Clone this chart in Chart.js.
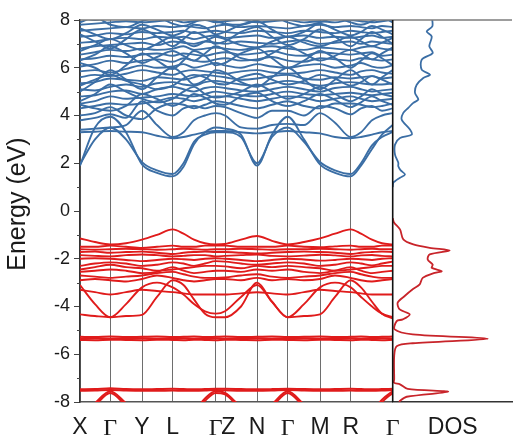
<!DOCTYPE html>
<html>
<head>
<meta charset="utf-8">
<script src="https://cdn.jsdelivr.net/npm/chart.js@4.4.1/dist/chart.umd.min.js"></script>
<style>
  html, body { margin: 0; padding: 0; background: #fff; }
  canvas { display: block; }
</style>
</head>
<body>
<canvas id="bands" width="513" height="442"></canvas>
<script>
// High-symmetry points along the k-path and their labels
const kTicks  = [0, 30.3, 62, 92.7, 135.7, 145, 177, 207.7, 240, 270.7, 312.7];
const kLabels = ['X', 'Γ', 'Y', 'L', 'Γ', ' Z', 'N', 'Γ', 'M', 'R', 'Γ'];

// k positions at which every band energy is sampled
const kGrid = [0, 15, 30.3, 46, 62, 77, 92.7, 103.5, 114, 125, 135.7, 145,
               161, 177, 192, 207.7, 224, 240, 255, 270.7, 281, 292, 302, 312.7];

// Energy axis ticks (eV)
const energyTicks = [-8, -6, -4, -2, 0, 2, 4, 6, 8];
const energyMinor = [-7, -5, -3, -1, 1, 3, 5, 7];

// Conduction bands (eV), one value per kGrid point
const cb01 = [1.9, 3.5, 3.95, 3.3, 1.95, 1.6, 1.45, 1.85, 2.8, 3.3, 3.5, 3.45, 3.2, 1.9, 3.2, 3.95, 3.0, 1.95, 1.6, 1.45, 1.9, 2.6, 3.2, 3.6];
const cb02 = [1.95, 3.0, 3.5, 3.0, 2.05, 1.7, 1.55, 2.0, 2.9, 3.2, 3.3, 3.3, 3.1, 2.0, 3.1, 3.5, 2.9, 2.05, 1.7, 1.55, 2.0, 2.75, 3.1, 3.3];
const cb03 = [3.3, 3.32, 3.35, 3.32, 3.3, 3.15, 3.05, 3.1, 3.2, 3.3, 3.35, 3.35, 3.3, 3.25, 3.3, 3.35, 3.3, 3.25, 3.1, 3.05, 3.1, 3.2, 3.3, 3.35];
const cb04 = [3.4, 3.45, 3.5, 3.6, 4.2, 3.6, 3.1, 3.3, 3.8, 4.0, 4.1, 4.0, 3.5, 3.45, 3.6, 3.65, 3.6, 4.1, 3.7, 3.1, 3.3, 3.8, 4.0, 4.1];
const cb05 = [3.8, 3.9, 4.05, 3.9, 4.6, 4.2, 4.0, 4.3, 4.4, 4.3, 4.4, 4.35, 4.1, 3.9, 4.2, 4.2, 4.0, 4.4, 4.3, 4.05, 4.3, 4.4, 4.2, 4.3];
const cb06 = [4.0, 4.1, 4.35, 4.0, 3.85, 4.3, 4.5, 4.45, 4.3, 4.45, 4.6, 4.55, 4.4, 4.3, 4.45, 4.6, 4.4, 4.3, 4.5, 4.5, 4.45, 4.35, 4.4, 4.5];
const cb07 = [4.3, 4.4, 4.5, 4.45, 4.5, 4.6, 4.75, 4.7, 4.6, 4.7, 4.8, 4.8, 4.7, 4.6, 4.7, 4.8, 4.75, 4.6, 4.7, 4.8, 4.7, 4.6, 4.65, 4.7];
const cb08 = [4.5, 4.6, 4.8, 4.7, 4.75, 4.8, 4.9, 4.85, 4.8, 4.9, 5.0, 4.95, 4.85, 4.8, 4.9, 5.0, 4.9, 4.85, 4.9, 4.95, 4.9, 4.85, 4.9, 4.95];
const cb09 = [4.6, 4.9, 5.3, 5.0, 4.7, 4.55, 4.7, 5.0, 5.2, 4.9, 4.75, 4.8, 5.0, 5.3, 5.0, 4.7, 4.9, 5.2, 4.9, 4.6, 4.8, 5.1, 4.9, 4.8];
const cb10 = [4.8, 4.85, 5.0, 5.05, 4.9, 5.1, 5.2, 5.1, 5.0, 5.15, 5.2, 5.15, 5.05, 5.0, 5.1, 5.2, 5.1, 5.0, 5.15, 5.2, 5.1, 5.0, 5.05, 5.1];
const cb11 = [5.1, 5.05, 5.2, 5.3, 5.2, 5.35, 5.4, 5.3, 5.25, 5.4, 5.45, 5.4, 5.3, 5.25, 5.35, 5.45, 5.35, 5.25, 5.35, 5.4, 5.35, 5.3, 5.3, 5.35];
const cb12 = [5.0, 5.4, 5.9, 5.5, 5.1, 5.6, 6.0, 5.7, 5.3, 5.5, 5.9, 5.8, 5.4, 5.2, 5.6, 6.0, 5.5, 5.1, 5.5, 5.9, 5.6, 5.3, 5.6, 5.9];
const cb13 = [5.35, 5.4, 5.55, 5.5, 5.45, 5.6, 5.55, 5.5, 5.6, 5.7, 5.65, 5.6, 5.5, 5.55, 5.65, 5.7, 5.55, 5.5, 5.6, 5.55, 5.6, 5.65, 5.55, 5.6];
const cb14 = [5.6, 5.7, 5.65, 5.75, 5.9, 5.8, 5.7, 5.85, 5.9, 5.85, 5.8, 5.75, 5.85, 5.9, 5.8, 5.75, 5.8, 5.9, 5.8, 5.7, 5.85, 5.9, 5.8, 5.75];
const cb15 = [5.85, 5.9, 5.8, 5.95, 6.1, 6.0, 6.05, 6.15, 6.0, 6.1, 6.2, 6.1, 6.0, 6.15, 6.05, 6.0, 6.1, 6.15, 6.0, 6.1, 6.2, 6.05, 6.0, 6.1];
const cb16 = [6.2, 6.0, 5.7, 6.1, 6.6, 6.3, 5.95, 6.3, 6.7, 6.5, 6.1, 6.2, 6.6, 6.8, 6.4, 6.0, 6.3, 6.7, 6.4, 6.0, 6.3, 6.6, 6.4, 6.1];
const cb17 = [6.05, 6.15, 6.3, 6.2, 6.3, 6.35, 6.25, 6.4, 6.3, 6.25, 6.35, 6.4, 6.3, 6.35, 6.45, 6.3, 6.25, 6.4, 6.35, 6.3, 6.4, 6.35, 6.3, 6.35];
const cb18 = [6.35, 6.4, 6.5, 6.45, 6.55, 6.6, 6.5, 6.6, 6.55, 6.5, 6.6, 6.65, 6.55, 6.6, 6.7, 6.55, 6.5, 6.65, 6.6, 6.55, 6.6, 6.65, 6.5, 6.55];
const cb19 = [6.55, 6.65, 6.75, 6.7, 6.8, 6.75, 6.8, 6.9, 6.75, 6.8, 6.85, 6.8, 6.75, 6.85, 6.9, 6.8, 6.75, 6.85, 6.8, 6.75, 6.85, 6.9, 6.8, 6.75];
const cb20 = [6.8, 6.9, 6.95, 7.0, 7.05, 6.95, 7.1, 7.05, 7.0, 7.1, 7.05, 7.0, 7.1, 7.05, 7.0, 7.1, 7.15, 7.0, 7.05, 7.1, 7.0, 7.1, 7.05, 7.0];
const cb21 = [7.4, 7.1, 6.8, 7.2, 7.6, 7.3, 6.9, 7.2, 7.5, 7.3, 7.0, 7.1, 7.5, 7.7, 7.3, 6.95, 7.2, 7.6, 7.3, 6.9, 7.2, 7.5, 7.3, 7.0];
const cb22 = [7.05, 7.1, 7.2, 7.25, 7.2, 7.3, 7.25, 7.3, 7.2, 7.3, 7.35, 7.25, 7.3, 7.35, 7.25, 7.3, 7.35, 7.25, 7.3, 7.25, 7.3, 7.35, 7.25, 7.3];
const cb23 = [7.3, 7.35, 7.45, 7.4, 7.5, 7.45, 7.5, 7.55, 7.45, 7.5, 7.55, 7.5, 7.45, 7.55, 7.5, 7.45, 7.55, 7.5, 7.45, 7.55, 7.5, 7.45, 7.5, 7.55];
const cb24 = [7.55, 7.6, 7.65, 7.7, 7.65, 7.75, 7.7, 7.75, 7.7, 7.65, 7.75, 7.8, 7.7, 7.75, 7.7, 7.65, 7.75, 7.8, 7.7, 7.75, 7.7, 7.65, 7.75, 7.7];
const cb25 = [7.8, 7.85, 7.9, 7.95, 7.9, 7.95, 8.0, 7.9, 7.95, 8.0, 7.9, 7.95, 8.0, 7.9, 7.95, 8.0, 7.9, 7.95, 7.9, 8.0, 7.95, 7.9, 7.95, 8.0];
const cb26 = [8.1, 8.0, 8.1, 8.15, 8.05, 8.1, 8.2, 8.1, 8.05, 8.15, 8.1, 8.05, 8.15, 8.1, 8.05, 8.2, 8.1, 8.05, 8.1, 8.15, 8.05, 8.1, 8.15, 8.1];
const cb27 = [5.25, 5.5, 5.7, 5.45, 5.3, 5.1, 5.25, 5.55, 5.7, 5.6, 5.35, 5.3, 5.6, 5.75, 5.5, 5.3, 5.45, 5.7, 5.55, 5.25, 5.4, 5.65, 5.5, 5.3];
const cb28 = [6.3, 6.55, 6.9, 6.6, 6.2, 6.45, 6.7, 6.5, 6.3, 6.6, 6.9, 6.75, 6.4, 6.3, 6.6, 6.9, 6.6, 6.3, 6.5, 6.75, 6.6, 6.35, 6.6, 6.85];
const cb29 = [7.65, 7.4, 7.2, 7.45, 7.8, 7.6, 7.35, 7.5, 7.8, 7.7, 7.4, 7.5, 7.8, 7.95, 7.6, 7.3, 7.5, 7.85, 7.6, 7.35, 7.5, 7.75, 7.6, 7.4];
const cb30 = [7.9, 8.1, 7.8, 7.7, 7.95, 8.1, 7.85, 7.75, 7.9, 8.1, 7.95, 7.85, 7.8, 8.0, 8.15, 7.9, 7.75, 7.9, 8.1, 7.9, 7.8, 7.95, 8.1, 7.9];
const cb31 = [4.45, 4.3, 4.2, 4.4, 4.9, 4.7, 4.4, 4.6, 4.9, 4.75, 4.5, 4.45, 4.8, 4.95, 4.6, 4.4, 4.6, 4.9, 4.65, 4.35, 4.55, 4.8, 4.6, 4.45];
const cb32 = [6.7, 6.95, 7.2, 6.95, 6.75, 7.0, 7.3, 7.1, 6.9, 7.1, 7.3, 7.2, 6.95, 6.85, 7.1, 7.3, 7.05, 6.9, 7.1, 7.3, 7.1, 6.9, 7.05, 7.25];

// Valence bands (eV)
const vb01 = [-1.15, -1.3, -1.4, -1.35, -1.2, -1.0, -0.77, -0.95, -1.2, -1.35, -1.4, -1.38, -1.2, -1.05, -1.25, -1.4, -1.3, -1.15, -0.95, -0.77, -0.95, -1.2, -1.35, -1.4];
const vb02 = [-1.5, -1.5, -1.45, -1.5, -1.55, -1.5, -1.45, -1.5, -1.5, -1.45, -1.45, -1.45, -1.5, -1.5, -1.5, -1.45, -1.5, -1.52, -1.48, -1.45, -1.5, -1.5, -1.45, -1.45];
const vb03 = [-1.6, -1.62, -1.6, -1.58, -1.6, -1.62, -1.6, -1.58, -1.6, -1.62, -1.6, -1.6, -1.58, -1.6, -1.62, -1.6, -1.6, -1.58, -1.6, -1.62, -1.6, -1.58, -1.6, -1.6];
const vb04 = [-1.72, -1.7, -1.75, -1.72, -1.7, -1.75, -1.8, -1.75, -1.72, -1.7, -1.72, -1.72, -1.75, -1.78, -1.75, -1.72, -1.7, -1.72, -1.75, -1.8, -1.75, -1.72, -1.7, -1.72];
const vb05 = [-1.85, -1.88, -1.9, -1.85, -1.82, -1.85, -1.9, -1.88, -1.85, -1.85, -1.9, -1.88, -1.85, -1.82, -1.88, -1.9, -1.87, -1.83, -1.86, -1.9, -1.86, -1.84, -1.88, -1.9];
const vb06 = [-2.0, -1.98, -2.0, -2.05, -2.1, -2.05, -2.0, -2.02, -2.05, -2.0, -1.98, -2.0, -2.05, -2.1, -2.05, -2.0, -2.03, -2.08, -2.05, -2.0, -2.02, -2.05, -2.0, -1.98];
const vb07 = [-2.3, -2.2, -2.15, -2.2, -2.3, -2.25, -2.15, -2.2, -2.3, -2.2, -2.1, -2.12, -2.2, -2.25, -2.2, -2.15, -2.2, -2.3, -2.25, -2.15, -2.2, -2.28, -2.2, -2.12];
const vb08 = [-2.45, -2.35, -2.25, -2.35, -2.4, -2.5, -2.45, -2.4, -2.35, -2.3, -2.3, -2.32, -2.4, -2.3, -2.35, -2.3, -2.35, -2.4, -2.5, -2.45, -2.4, -2.35, -2.3, -2.3];
const vb09 = [-2.55, -2.5, -2.45, -2.5, -2.6, -2.55, -2.35, -2.5, -2.6, -2.55, -2.5, -2.5, -2.55, -2.45, -2.5, -2.45, -2.55, -2.6, -2.5, -2.35, -2.5, -2.6, -2.55, -2.5];
const vb10 = [-2.7, -2.75, -2.8, -2.75, -2.7, -2.6, -2.55, -2.65, -2.75, -2.8, -2.8, -2.78, -2.7, -2.65, -2.75, -2.8, -2.75, -2.7, -2.6, -2.55, -2.65, -2.75, -2.8, -2.8];
const vb11 = [-2.9, -2.85, -2.9, -2.95, -2.85, -2.7, -2.8, -2.9, -2.95, -2.9, -2.85, -2.85, -2.9, -2.8, -2.9, -2.85, -2.9, -2.85, -2.7, -2.8, -2.9, -2.95, -2.9, -2.85];
const vb12 = [-3.3, -3.4, -3.5, -3.4, -3.3, -3.35, -3.4, -3.45, -3.5, -3.5, -3.5, -3.5, -3.45, -3.4, -3.45, -3.5, -3.4, -3.3, -3.35, -3.4, -3.45, -3.5, -3.5, -3.5];
const vb13 = [-3.1, -3.9, -4.45, -3.9, -3.2, -3.0, -3.2, -3.5, -3.9, -4.2, -4.3, -4.2, -3.6, -3.1, -3.8, -4.45, -3.9, -3.2, -3.0, -3.2, -3.6, -4.0, -4.3, -4.45];
const vb14 = [-4.33, -4.4, -4.45, -4.4, -4.35, -3.6, -2.9, -3.1, -3.7, -4.3, -4.45, -4.45, -4.0, -3.0, -3.8, -4.45, -4.4, -4.33, -3.6, -2.9, -3.2, -3.8, -4.3, -4.5];

// Semi-core bands (eV)
const sc01 = [-5.27, -5.28, -5.26, -5.28, -5.27, -5.26, -5.28, -5.27, -5.26, -5.28, -5.27, -5.26, -5.28, -5.27, -5.26, -5.28, -5.27, -5.26, -5.28, -5.27, -5.26, -5.28, -5.27, -5.26];
const sc02 = [-5.34, -5.33, -5.35, -5.34, -5.33, -5.35, -5.34, -5.33, -5.35, -5.34, -5.33, -5.35, -5.34, -5.33, -5.35, -5.34, -5.33, -5.35, -5.34, -5.33, -5.35, -5.34, -5.33, -5.35];
const sc03 = [-5.4, -5.41, -5.39, -5.4, -5.41, -5.39, -5.4, -5.41, -5.39, -5.4, -5.41, -5.39, -5.4, -5.41, -5.39, -5.4, -5.41, -5.39, -5.4, -5.41, -5.39, -5.4, -5.41, -5.39];
const sc04 = [-7.47, -7.46, -7.42, -7.46, -7.47, -7.46, -7.45, -7.46, -7.47, -7.46, -7.45, -7.45, -7.46, -7.47, -7.46, -7.44, -7.46, -7.47, -7.46, -7.45, -7.46, -7.47, -7.46, -7.45];
const sc05 = [-7.53, -7.52, -7.5, -7.52, -7.53, -7.53, -7.52, -7.53, -7.53, -7.52, -7.5, -7.51, -7.53, -7.53, -7.52, -7.5, -7.52, -7.53, -7.53, -7.52, -7.53, -7.53, -7.52, -7.5];
const sc06 = [-8.6, -8.05, -7.55, -8.05, -8.6, -8.8, -8.8, -8.7, -8.4, -7.85, -7.55, -7.62, -8.2, -8.6, -8.1, -7.55, -8.1, -8.6, -8.8, -8.8, -8.6, -8.4, -7.9, -7.55];
const sc07 = [-8.7, -8.15, -7.62, -8.15, -8.7, -8.9, -8.9, -8.8, -8.5, -7.95, -7.62, -7.68, -8.3, -8.7, -8.2, -7.62, -8.2, -8.7, -8.9, -8.9, -8.7, -8.5, -8.0, -7.62];

// Density of states: energies (eV) and DOS values (arb. units)
const dosCbE = [1.0, 1.19, 1.25, 1.39, 1.53, 1.7, 1.87, 2.02, 2.36, 2.78, 3.06, 3.2, 3.41, 3.83, 4.11, 4.32, 4.53, 4.67, 4.95, 5.29, 5.57, 5.71, 5.92, 6.34, 6.62, 6.9, 7.31, 7.52, 7.73, 8.01];
const dosCbV = [0, 0.6, 2.3, 7.3, 12.3, 8, 5.6, 5.6, 2.3, 2.3, 7.3, 19, 17.3, 9, 10.6, 15.6, 20.6, 25.6, 22.3, 24, 30.6, 37.3, 29, 29, 40, 36.6, 39, 34, 39.6, 39.6];
const dosVbE = [-8.0, -7.96, -7.78, -7.57, -7.45, -7.26, -7.19, -7.05, -6.07, -5.66, -5.54, -5.35, -5.17, -4.96, -4.61, -4.54, -4.33, -4.12, -3.84, -3.56, -3.28, -3.07, -2.8, -2.59, -2.52, -2.38, -2.25, -2.03, -1.82, -1.65, -1.54, -1.4, -1.19, -0.77, -0.48, -0.3];
const dosVbV = [7, 7, 14, 55.6, 15, 7.3, 1.3, 1.5, 1.5, 4, 20, 95, 20, 2, 4, 10, 17, 7, 5, 12, 20, 27, 30, 42, 49, 39, 40, 35, 37, 57, 37, 20.6, 10.6, 7.3, 1.3, 0];

const blue = '#3b6ea5';
const red = '#e01b1b';
const dosRed = '#c8242a';

const conduction = [cb01, cb02, cb03, cb04, cb05, cb06, cb07, cb08, cb09, cb10, cb11, cb12, cb13, cb14, cb15, cb16,
                    cb17, cb18, cb19, cb20, cb21, cb22, cb23, cb24, cb25, cb26, cb27, cb28, cb29, cb30, cb31, cb32];
const valence = [vb01, vb02, vb03, vb04, vb05, vb06, vb07, vb08, vb09, vb10, vb11, vb12, vb13, vb14];
const semicore = [sc01, sc02, sc03, sc04, sc05, sc06, sc07];

function bandSet(band, color, width) {
  return {
    data: band.map((e, i) => ({ x: kGrid[i], y: e })),
    borderColor: color,
    borderWidth: width,
    pointRadius: 0,
    cubicInterpolationMode: 'monotone',
    xAxisID: 'x',
    yAxisID: 'y'
  };
}
function dosSet(es, vs, color) {
  return {
    data: es.map((e, i) => ({ x: vs[i], y: e })),
    borderColor: color,
    borderWidth: 1.8,
    pointRadius: 0,
    tension: 0.3,
    xAxisID: 'x2',
    yAxisID: 'y'
  };
}

const datasets = [];
conduction.forEach(b => datasets.push(bandSet(b, blue, 1.9)));
valence.forEach(b => datasets.push(bandSet(b, red, 1.9)));
semicore.forEach(b => datasets.push(bandSet(b, red, 2)));
datasets.push(dosSet(dosCbE, dosCbV, blue));
datasets.push(dosSet(dosVbE, dosVbV, dosRed));

const sansFont = { family: 'Arial, "Liberation Sans", sans-serif', size: 23 };
const serifFont = { family: '"Times New Roman", "Liberation Serif", serif', size: 24 };

// Frame lines, panel divider and minor energy ticks
const framePlugin = {
  id: 'frame',
  afterDatasetsDraw(chart) {
    const { ctx, chartArea: a, scales } = chart;
    ctx.save();
    ctx.lineCap = 'butt';
    ctx.strokeStyle = '#7d7d7d';
    ctx.lineWidth = 1.5;
    ctx.beginPath();
    ctx.moveTo(a.left, a.top);
    ctx.lineTo(a.right, a.top);
    ctx.stroke();

    const xd = scales.x.right;
    ctx.strokeStyle = '#111';
    ctx.lineWidth = 1.6;
    ctx.beginPath();
    ctx.moveTo(xd, a.top);
    ctx.lineTo(xd, a.bottom);
    ctx.stroke();

    ctx.strokeStyle = '#444';
    ctx.lineWidth = 1;
    ctx.beginPath();
    energyMinor.forEach(v => {
      const py = Math.round(scales.y.getPixelForValue(v)) + 0.5;
      ctx.moveTo(a.left - 3, py);
      ctx.lineTo(a.left, py);
    });
    ctx.stroke();
    ctx.restore();
  }
};

new Chart(document.getElementById('bands'), {
  type: 'line',
  data: { datasets },
  plugins: [framePlugin],
  options: {
    responsive: false,
    animation: false,
    devicePixelRatio: 1,
    layout: { padding: { top: 20, right: 1, left: 0, bottom: 0 } },
    plugins: { legend: { display: false }, tooltip: { enabled: false } },
    scales: {
      x: {
        type: 'linear',
        position: 'bottom',
        stack: 'k',
        stackWeight: 312.7,
        min: 0,
        max: 312.7,
        afterBuildTicks: s => { s.ticks = kTicks.map(v => ({ value: v })); },
        afterFit: s => { s.height = 40; s.paddingLeft = 0; s.paddingRight = 0; },
        grid: { display: true, drawTicks: false, color: '#6e6e6e', lineWidth: 1 },
        border: { display: true, color: '#555', width: 1.5 },
        ticks: {
          autoSkip: false,
          maxRotation: 0,
          minRotation: 0,
          padding: 12,
          color: '#1a1a1a',
          font: ctx => (kLabels[ctx.index] === 'Γ' ? serifFont : sansFont),
          callback: (v, i) => kLabels[i]
        }
      },
      x2: {
        type: 'linear',
        position: 'bottom',
        stack: 'k',
        stackWeight: 119.3,
        min: 0,
        max: 119.3,
        afterBuildTicks: s => { s.ticks = [{ value: 60 }]; },
        afterFit: s => { s.height = 40; s.paddingLeft = 0; s.paddingRight = 0; },
        grid: { display: false },
        border: { display: true, color: '#333', width: 1.5 },
        ticks: {
          autoSkip: false,
          maxRotation: 0,
          padding: 4,
          color: '#1a1a1a',
          font: sansFont,
          callback: () => 'DOS'
        }
      },
      y: {
        type: 'linear',
        position: 'left',
        min: -8,
        max: 8,
        afterBuildTicks: s => { s.ticks = energyTicks.map(v => ({ value: v })); },
        afterFit: s => { s.width = 80; s.paddingTop = 0; s.paddingBottom = 0; },
        grid: { display: true, drawOnChartArea: false, drawTicks: true, tickLength: 6, tickColor: '#444', tickWidth: 1 },
        border: { display: true, color: '#333', width: 1.5 },
        ticks: {
          padding: 4,
          color: '#1a1a1a',
          font: { family: 'Arial, "Liberation Sans", sans-serif', size: 18 },
          callback: v => String(v)
        },
        title: {
          display: true,
          text: '  Energy (eV)',
          color: '#1a1a1a',
          font: { family: 'Arial, "Liberation Sans", sans-serif', size: 25 },
          padding: { top: 3, bottom: 0 }
        }
      }
    }
  }
});
</script>
</body>
</html>
